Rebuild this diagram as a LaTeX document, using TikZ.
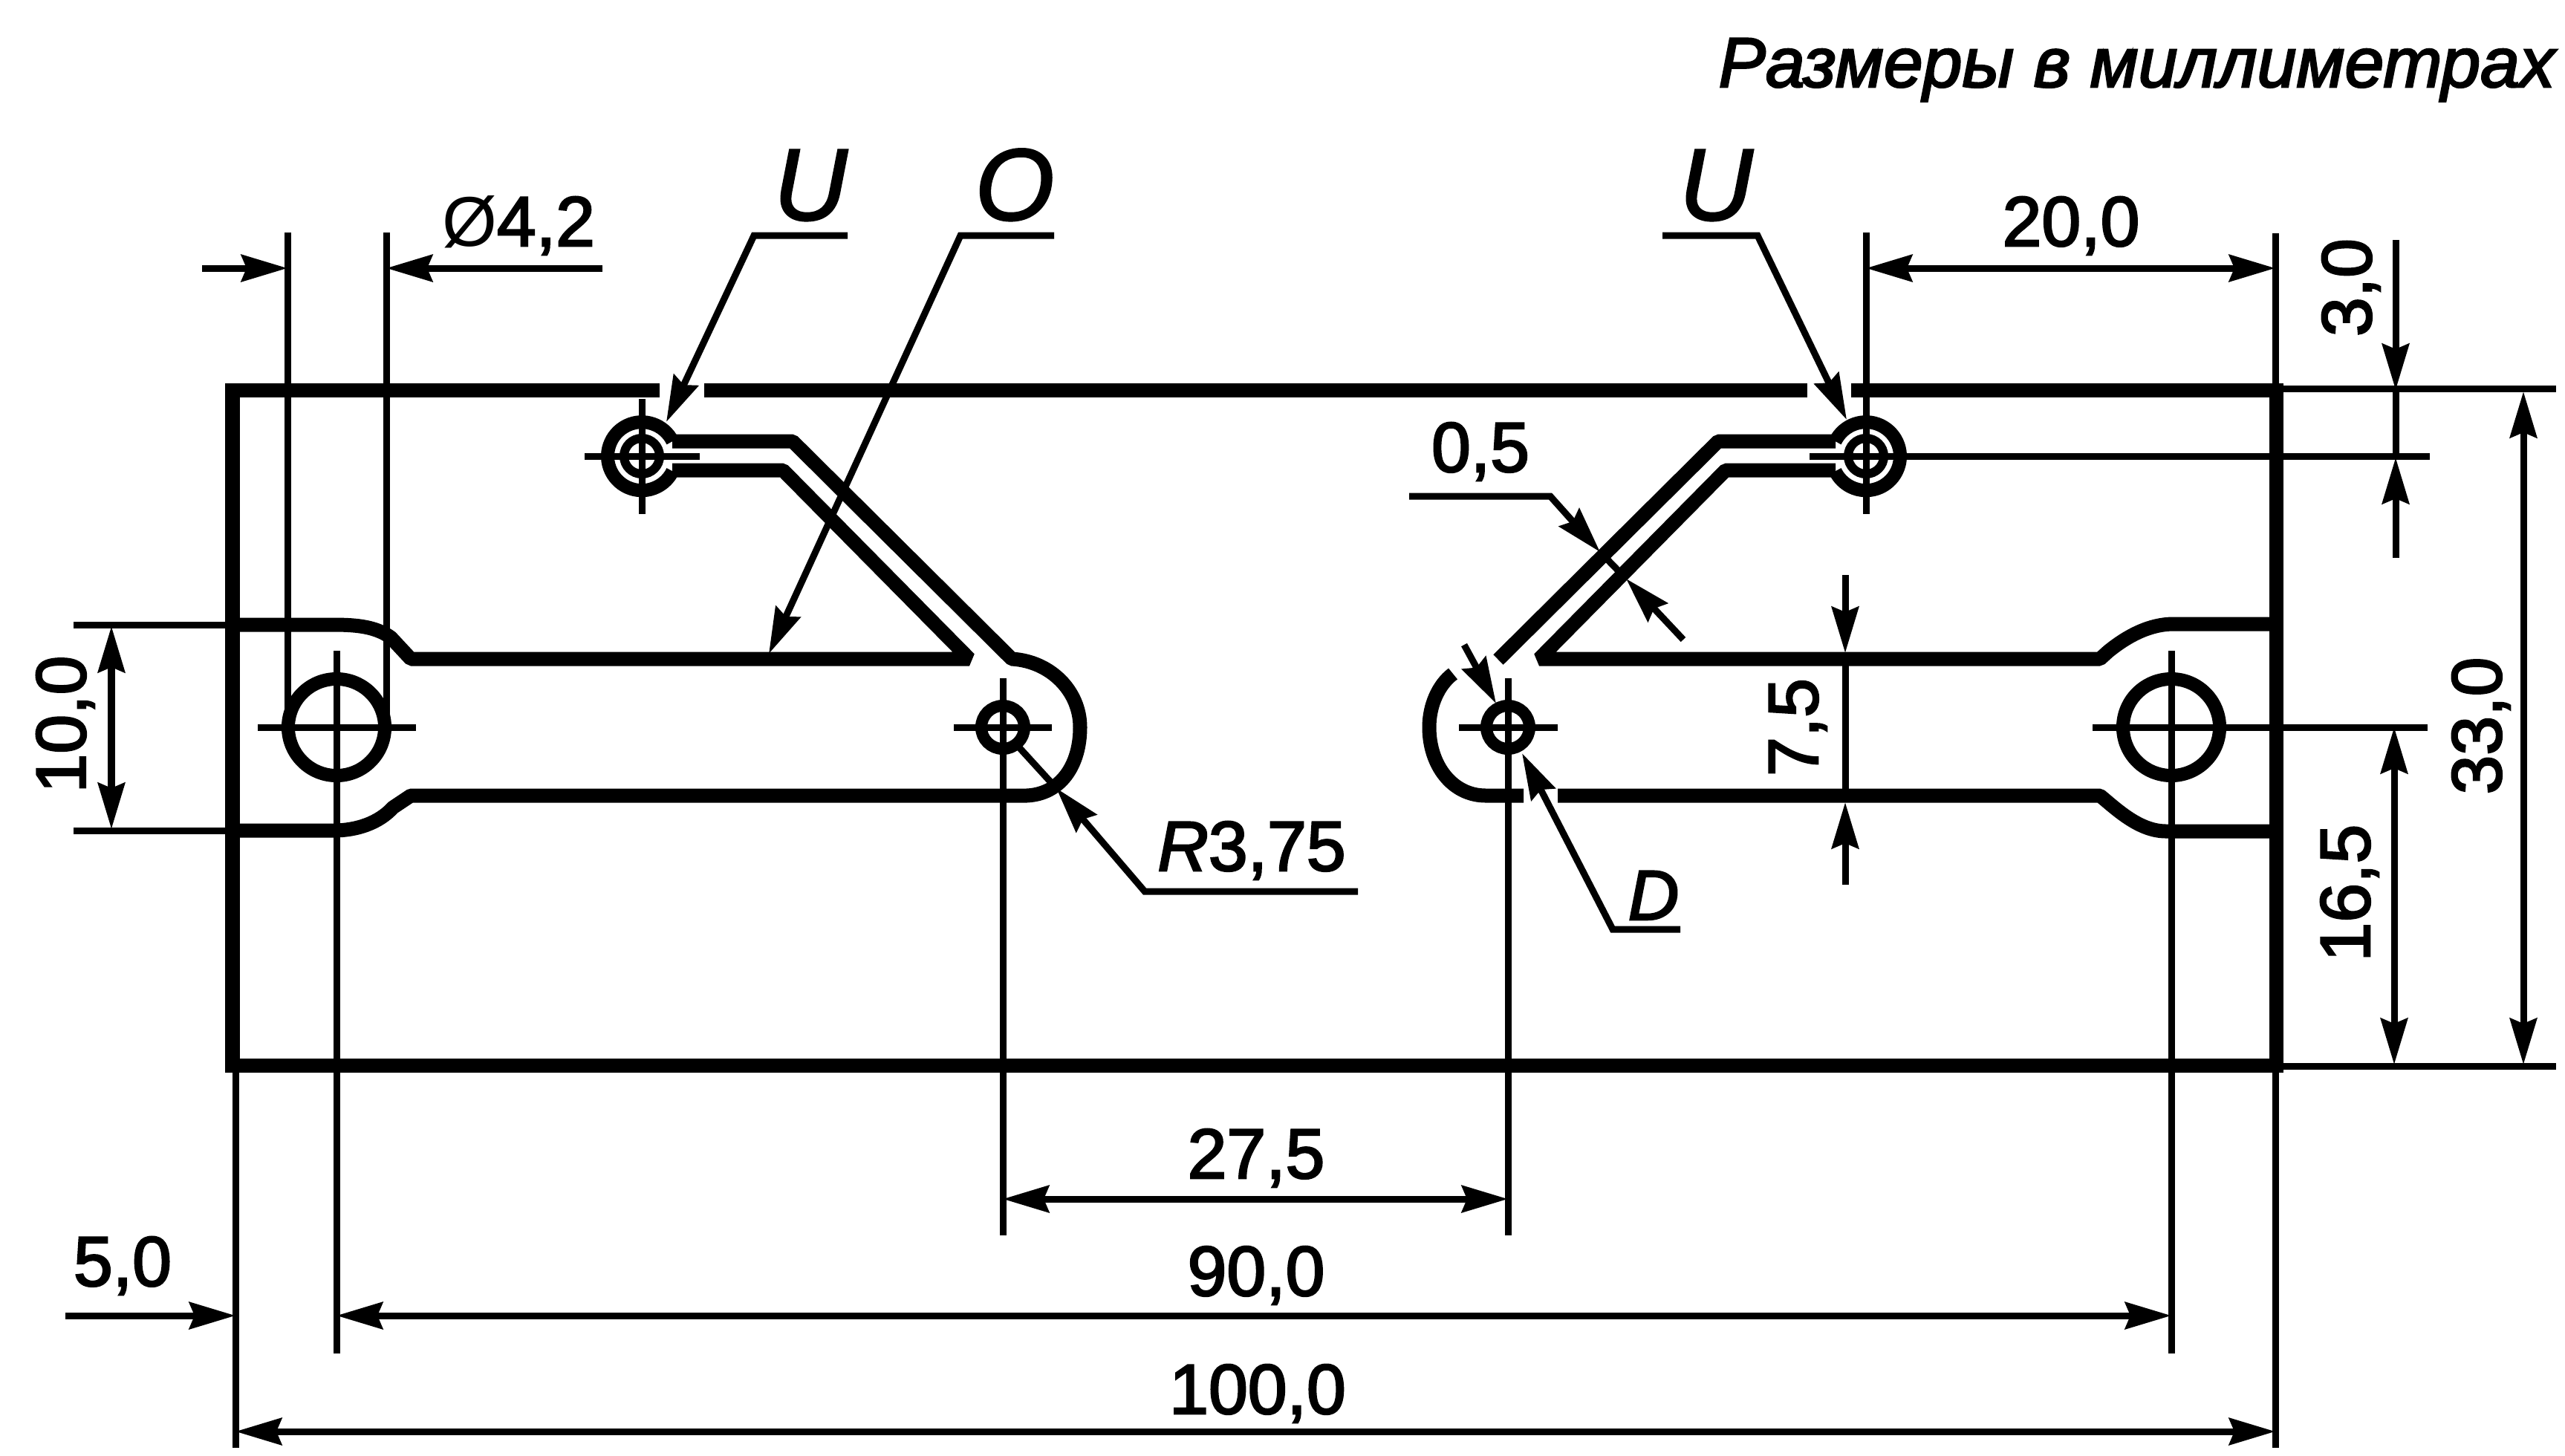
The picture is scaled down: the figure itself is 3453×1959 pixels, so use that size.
\documentclass[tikz,border=0pt]{standalone}
\usepackage{fontspec}
\setmainfont{Liberation Sans}
\usetikzlibrary{arrows.meta,calc}
\newcommand{\fatbegin}{\special{pdf:code q 2 Tr 0.7 w}}
\newcommand{\fatend}{\special{pdf:code Q}}
\newcommand{\thinglyph}{\special{pdf:code 0 Tr}}
\newcommand{\fatglyph}{\special{pdf:code 2 Tr}}
\tikzset{
  thickline/.style={line width=0.19cm,line join=bevel},
  thinline/.style={line width=0.09cm},
  ring/.style={line width=0.18cm},
  smallring/.style={line width=0.16cm},
  innerring/.style={line width=0.12cm},
  tip/.tip={Stealth[length=0.62cm,width=0.36cm,inset=0.07cm]},
  fattext/.style={execute at begin node=\fatbegin,execute at end node=\fatend},
  dimtext/.style={fattext,anchor=base,inner sep=0pt,font=\fontsize{27}{30}\selectfont},
  bigletter/.style={fattext,anchor=base,inner sep=0pt,font=\fontsize{39}{42}\selectfont\itshape},
}
\begin{document}
\begin{tikzpicture}[x=0.01cm,y=-0.01cm]
\useasboundingbox (0,0) rectangle (3453,1959);
% hole centres
\coordinate (HL) at (453,979);
\coordinate (HR) at (2923,979);
\coordinate (SL) at (1350,979);
\coordinate (SR) at (2030,979);
\coordinate (UL) at (864,614);
\coordinate (UR) at (2512,614);
% outline
\draw[thickline,line join=miter] (888,525) -- (313,525) -- (313,1434) -- (3064,1434) -- (3064,525) -- (2492,525);
\draw[thickline,line join=miter] (948,525) -- (2433,525);
% left slot
\draw[thickline] (313,841) -- (449,841) .. controls (482,841) and (506,844) .. (526,858) -- (553,887) -- (1305,887) -- (1054,633) -- (905,633);
\draw[thickline] (905,594) -- (1067,594) -- (1362,887) .. controls (1414,890) and (1454,930) .. (1454,979) .. controls (1454,1030) and (1428,1069) .. (1382,1071) -- (553,1071) -- (529,1087) .. controls (510,1108) and (480,1118) .. (449,1118) -- (313,1118);
% right slot
\draw[thickline] (3064,840) -- (2926,840) .. controls (2895,840) and (2865,855) .. (2838,877) -- (2827,887) -- (2072,887) -- (2323,633) -- (2471,633);
\draw[thickline] (2471,594) -- (2313,594) -- (2017,888);
\draw[thickline] (1956,907) .. controls (1936,922) and (1924,950) .. (1924,979) .. controls (1924,1030) and (1955,1071) .. (2000,1071) -- (2051,1071);
\draw[thickline] (2097,1071) -- (2827,1071) .. controls (2850,1090) and (2880,1119) .. (2916,1119) -- (3064,1119);
% holes
\draw[ring] (HL) circle[radius=0.65cm];
\draw[ring] (HR) circle[radius=0.65cm];
\draw[smallring] (SL) circle[radius=0.29cm];
\draw[smallring] (SR) circle[radius=0.29cm];
\draw[ring] ($(UL)+(41.4,-20)$) arc[start angle=26,end angle=334,radius=0.46cm];
\draw[ring] ($(UR)+(-41.4,-20)$) arc[start angle=154,end angle=-154,radius=0.46cm];
\draw[innerring] (UL) circle[radius=0.24cm];
\draw[innerring] (UR) circle[radius=0.24cm];
% centre and extension lines
\draw[thinline] (453,876) -- (453,1822);
\draw[thinline] (347,979) -- (560,979);
\draw[thinline] (2817,979) -- (3268,979);
\draw[thinline] (2923,876) -- (2923,1822);
\draw[thinline] (1350,913) -- (1350,1663);
\draw[thinline] (1284,979) -- (1416,979);
\draw[thinline] (2030,913) -- (2030,1663);
\draw[thinline] (1964,979) -- (2097,979);
\draw[thinline] (864,537) -- (864,692);
\draw[thinline] (787,614) -- (942,614);
\draw[thinline] (2512,313) -- (2512,692);
\draw[thinline] (2436,614) -- (3271,614);
\draw[thinline] (387,313) -- (387,979);
\draw[thinline] (520,313) -- (520,979);
\draw[thinline] (99,841) -- (313,841);
\draw[thinline] (99,1118) -- (313,1118);
\draw[thinline] (317,1434) -- (317,1949);
\draw[thinline] (3063,314) -- (3063,1949);
\draw[thinline] (3064,523) -- (3441,523);
\draw[thinline] (3064,1435) -- (3441,1435);
% dimensions
\draw[thinline,-{tip}] (272,361) -- (387,361);
\draw[thinline,-{tip}] (811,361) -- (520,361);
\draw[thinline,{tip}-{tip}] (2512,361) -- (3063,361);
\draw[thinline,-{tip}] (3225,323) -- (3225,525);
\draw[thinline,-{tip}] (3225,751) -- (3225,616);
\draw[thinline] (3225,525) -- (3225,616);
\draw[thinline,{tip}-{tip}] (3223,979) -- (3223,1433);
\draw[thinline,{tip}-{tip}] (3397,527) -- (3397,1433);
\draw[thinline,{tip}-{tip}] (150,843) -- (150,1116);
\draw[thinline,-{tip}] (2484,774) -- (2484,879);
\draw[thinline,-{tip}] (2484,1191) -- (2484,1080);
\draw[thinline] (2484,879) -- (2484,1080);
\draw[thinline,{tip}-{tip}] (1350,1614) -- (2030,1614);
\draw[thinline,{tip}-{tip}] (453,1771) -- (2923,1771);
\draw[thinline,-{tip}] (88,1771) -- (317,1771);
\draw[thinline,{tip}-{tip}] (317,1927) -- (3063,1927);
% leaders
\draw[thinline,-{tip}] (1141,317) -- (1015,317) -- (897,568);
\draw[thinline,-{tip}] (1419,317) -- (1293,317) -- (1035,880);
\draw[thinline,-{tip}] (2238,317) -- (2366,317) -- (2486,565);
\draw[thinline,-{tip}] (1828,1200) -- (1541,1200) -- (1422,1061);
\draw[thinline] (1422,1061) -- (1370,1004);
\draw[thinline,-{tip}] (1897,668) -- (2087,668) -- (2154,743);
\draw[thinline,-{tip}] (2266,861) -- (2189,779);
\draw[thinline] (2154,743) -- (2189,779);
\draw[thinline,-{tip}] (1971,868) -- (2014,947);
\draw[thinline,-{tip}] (2262,1251) -- (2171,1251) -- (2049,1014);
% texts
\node[fattext,anchor=base east,inner sep=0pt,font=\fontsize{27}{30}\selectfont\itshape] (title) at (3440,117) {Размеры в миллиметрах};
\node[dimtext] (d42) at (698,331) {\thinglyph Ø\fatglyph 4,2};
\node[bigletter] (u1) at (1091,296) {U};
\node[bigletter] (o1) at (1366,296) {O};
\node[bigletter] (u2) at (2310,296) {U};
\node[dimtext] (d20) at (2788,331) {20,0};
\node[dimtext] (d05) at (1993,635) {0,5};
\node[dimtext,rotate=90] (d3) at (3192,387) {3,0};
\node[dimtext,rotate=90] (d33) at (3367,977) {33,0};
\node[dimtext,rotate=90] (d165) at (3190,1202) {16,5};
\node[dimtext,rotate=90] (d75) at (2447,979) {7,5};
\node[dimtext,rotate=90] (d10) at (115,975) {10,0};
\node[dimtext] (dr) at (1685,1172) {\textit{R}3,75};
\node[dimtext,font=\fontsize{27}{30}\selectfont\itshape] (dd) at (2226,1238) {D};
\node[dimtext] (d275) at (1691,1586) {27,5};
\node[dimtext] (d90) at (1691,1744) {90,0};
\node[dimtext] (d5) at (165,1731) {5,0};
\node[dimtext] (d100) at (1693,1903) {100,0};
\end{tikzpicture}
\end{document}
